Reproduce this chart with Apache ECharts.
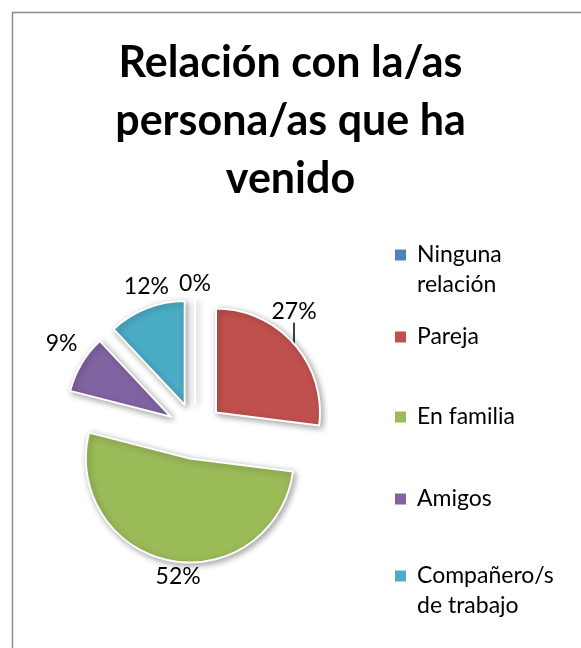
<!DOCTYPE html>
<html lang="es">
  <head>
    <meta charset="UTF-8" />
    <title>Relación con la/as persona/as que ha venido</title>
    <script src="https://cdn.jsdelivr.net/npm/echarts@6/dist/echarts.min.js"></script>
    <style>
      html, body { margin: 0; padding: 0; background: #fff; }
    </style>
  </head>
  <body>
    <div id="chart" style="width: 581px; height: 648px"></div>
    <script>
      const titleText = "Relación con la/as\npersona/as que ha\nvenido";
      const categories = ["Ninguna\nrelación", "Pareja", "En familia", "Amigos", "Compañero/s\nde trabajo"];
      const percents = [0, 27, 52, 9, 12];
      const colors = ["#4f81bd", "#c0504d", "#9bbb59", "#8064a2", "#4bacc6"];

      const font = "Lato, 'Open Sans', sans-serif";
      const total = percents.reduce((a, b) => a + b, 0);
      // compass angle (clockwise from 12 o'clock) of each slice's middle
      const midAngles = [];
      let acc = 0;
      percents.forEach((v) => {
        midAngles.push(((acc + v / 2) / total) * Math.PI * 2);
        acc += v;
      });
      // where each label sits relative to its slice edge (compass degrees, gap px)
      const labelDir = [null, 0, 153, 315, 0];
      const labelGap = [6, 23, 7, 15, 12];
      const leader = [false, true, false, false, false];
      const legendTops = [210, 322, 402, 484, 531];

      const chart = echarts.init(document.getElementById("chart"));

      const option = {
        backgroundColor: "#fff",
        animation: false,
        title: {
          text: titleText,
          left: "center",
          top: 29,
          padding: [5, 0, 5, 19],
          textStyle: {
            fontFamily: font,
            fontWeight: "bold",
            fontSize: 43,
            lineHeight: 58,
            color: "#000",
          },
        },
        legend: categories.map((name, i) => ({
          data: [name],
          orient: "vertical",
          left: 395,
          top: legendTops[i],
          padding: 0,
          itemWidth: 11,
          itemHeight: 11,
          icon: "path://M0 0H10V10H0Z",
          selectedMode: false,
          itemStyle: { borderWidth: 0, shadowBlur: 0, shadowOffsetX: 0, shadowOffsetY: 0 },
          // leading blank line keeps the marker level with the first text line
          formatter: (n) => (n.indexOf("\n") >= 0 ? "\n" + n : n),
          textStyle: {
            fontFamily: font,
            fontSize: 23,
            lineHeight: 30,
            color: "#000",
            padding: [0, 0, 0, 6],
          },
        })),
        graphic: [
          {
            type: "rect",
            shape: { x: 12.5, y: 12.5, width: 700, height: 700 },
            style: { fill: null, stroke: "#8c8c8c", lineWidth: 1.5 },
            silent: true,
          },
        ],
        series: [
          {
            type: "pie",
            center: [195, 431],
            radius: 104,
            startAngle: 90,
            clockwise: true,
            selectedMode: "multiple",
            selectedOffset: 28,
            avoidLabelOverlap: false,
            emphasis: { disabled: true },
            itemStyle: {
              borderColor: "#fff",
              borderWidth: 2,
              shadowBlur: 6,
              shadowOffsetX: 2,
              shadowOffsetY: 2,
              shadowColor: "rgba(0,0,0,0.35)",
            },
            select: {
              itemStyle: { borderColor: "#fff", borderWidth: 2 },
            },
            label: {
              show: true,
              position: "outside",
              formatter: "{c}%",
              fontFamily: font,
              fontSize: 23,
              color: "#000",
              distanceToLabelLine: 0,
            },
            labelLine: {
              show: false,
              length: 0,
              length2: 0,
              lineStyle: { color: "#000", width: 1.5 },
            },
            labelLayout: function (p) {
              const i = p.dataIndex;
              const ang = labelDir[i] != null ? (labelDir[i] * Math.PI) / 180 : midAngles[i];
              const ux = Math.sin(ang);
              const uy = -Math.cos(ang);
              const r = p.labelRect;
              const ex = p.align === "right" ? r.x + r.width : r.x;
              const hw = r.width / 2;
              const hh = (r.height * 0.8) / 2;
              const t =
                Math.min(
                  Math.abs(ux) > 1e-6 ? hw / Math.abs(ux) : Infinity,
                  Math.abs(uy) > 1e-6 ? hh / Math.abs(uy) : Infinity
                ) + labelGap[i];
              const out = {
                dx: ex + ux * t - (r.x + hw),
                dy: uy * t,
              };
              if (leader[i] && p.labelLinePoints) {
                const p0 = p.labelLinePoints[0];
                out.labelLinePoints = [
                  [p0[0], p0[1]],
                  [p0[0], p0[1] - (t - hh - 2)],
                ];
              }
              return out;
            },
            data: categories.map((name, i) => ({
              name: name,
              value: percents[i],
              selected: true,
              itemStyle: { color: colors[i] },
              labelLine: { show: leader[i] },
            })),
          },
        ],
      };

      chart.setOption(option);
    </script>
  </body>
</html>
